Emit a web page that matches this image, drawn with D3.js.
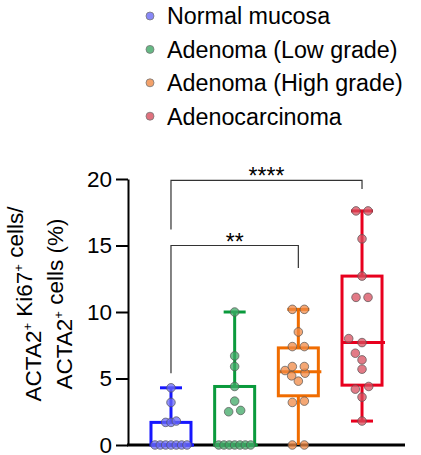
<!DOCTYPE html>
<html>
<head>
<meta charset="utf-8">
<script src="https://cdn.jsdelivr.net/npm/d3@7"></script>
<style>
  body { margin: 0; background: #fff; }
  svg text { font-family: Arial, "Liberation Sans", sans-serif; fill: #000; }
</style>
</head>
<body>
<div id="chart"></div>
<script>
// groups and colours
var groups = ["Normal mucosa", "Adenoma (Low grade)", "Adenoma (High grade)", "Adenocarcinoma"];
var boxColors = ["#1616ff", "#0a9a3c", "#f06c00", "#e8001e"];
var dotColors = ["#6a6af5", "#3fa865", "#f08a45", "#d84e5e"];

// individual values (%)
var normalVals = [0, 0, 0, 0, 0, 0, 0, 1.7, 1.7, 1.8, 3.2, 4.3];
var lowVals = [0, 0, 0, 0, 0, 0, 0, 2.5, 2.6, 3.3, 4.4, 5.9, 6.7, 10.0];
var highVals = [0, 0, 3.2, 3.3, 4.8, 5.2, 5.4, 5.6, 5.9, 5.9, 7.4, 7.4, 8.5, 10.2, 10.2];
var carcVals = [1.8, 3.6, 4.2, 4.4, 5.7, 6.4, 6.9, 7.7, 8.0, 11.1, 11.1, 12.7, 15.5, 17.6, 17.6];
var allVals = [normalVals, lowVals, highVals, carcVals];

// box plot stats (min, q1, median, q3, max)
var boxMin = [0, 0, 0, 1.8];
var boxQ1 = [0, 0, 3.7, 4.5];
var boxMed = [0, 0, 5.5, 7.7];
var boxQ3 = [1.7, 4.4, 7.3, 12.7];
var boxMax = [4.3, 10.0, 10.2, 17.6];

var yTicks = [0, 5, 10, 15, 20];

// significance brackets
var compFrom = [0, 0];
var compTo = [3, 2];
var compLevel = [19.9, 15.0];
var compLeftEnd = [16.2, 5.4];
var compRightEnd = [19.25, 13.3];
var compLabel = ["****", "**"];

var W = 421, H = 455;
var svg = d3.select("#chart").append("svg")
    .attr("width", W).attr("height", H);

var x = d3.scalePoint().domain(groups).range([128, 405]).padding(0.675);
var y = d3.scaleLinear().domain([0, 20]).range([445, 179]);

// legend
var legend = svg.append("g").attr("class", "legend");
groups.forEach(function(g, i) {
  var ly = 16 + i * 33.4;
  legend.append("circle")
      .attr("cx", 150).attr("cy", ly).attr("r", 4)
      .style("fill", dotColors[i]).style("fill-opacity", 0.8)
      .style("stroke", "#777").style("stroke-width", 0.8);
  legend.append("text")
      .attr("x", 167).attr("y", ly).attr("dy", "0.36em")
      .style("font-size", "23.3px")
      .text(g);
});

// y axis
var yAxis = d3.axisLeft(y).tickValues(yTicks).tickSize(12).tickSizeOuter(0).tickPadding(4);
var gy = svg.append("g").attr("transform", "translate(128,0)").call(yAxis);
gy.select(".domain").style("stroke", "#000").style("stroke-width", 2);
gy.selectAll(".tick line").style("stroke", "#000").style("stroke-width", 2);
gy.selectAll(".tick text")
    .style("font-size", "22.5px")
    .style("font-family", "Arial, 'Liberation Sans', sans-serif")
    .style("fill", "#000");

// x axis baseline
svg.append("line")
    .attr("x1", 127).attr("x2", 405)
    .attr("y1", y(0)).attr("y2", y(0))
    .style("stroke", "#000").style("stroke-width", 3);

// y label (two lines, rotated)
function yLabelLine(xpos, parts) {
  var t = svg.append("text")
      .attr("transform", "translate(" + xpos + ",304) rotate(-90)")
      .attr("text-anchor", "middle")
      .style("font-size", "22.5px");
  parts.forEach(function(p) {
    if (p.sup) {
      t.append("tspan").attr("dy", -9).style("font-size", "13px").text(p.s);
      t.append("tspan").attr("dy", 9).text("");
    } else {
      t.append("tspan").text(p.s);
    }
  });
}
yLabelLine(41, [{s: "ACTA2"}, {s: "+", sup: true}, {s: " Ki67"}, {s: "+", sup: true}, {s: " cells/"}]);
yLabelLine(72, [{s: "ACTA2"}, {s: "+", sup: true}, {s: " cells (%)"}]);

// brackets
compFrom.forEach(function(f, i) {
  var x1 = x(groups[f]), x2 = x(groups[compTo[i]]);
  var yl = y(compLevel[i]);
  svg.append("path")
      .attr("d", "M" + x1 + "," + y(compLeftEnd[i]) + "V" + yl + "H" + x2 + "V" + y(compRightEnd[i]))
      .style("fill", "none").style("stroke", "#333").style("stroke-width", 1.2);
  svg.append("text")
      .attr("x", (x1 + x2) / 2).attr("y", yl + 4)
      .attr("text-anchor", "middle")
      .style("font-size", "23px")
      .text(compLabel[i]);
});

// boxes
var boxW = 40, capW = 22;
groups.forEach(function(g, i) {
  var cx = x(g), c = boxColors[i];
  var gb = svg.append("g").attr("class", "box");
  // whiskers
  gb.append("line").attr("x1", cx).attr("x2", cx)
      .attr("y1", y(boxQ3[i])).attr("y2", y(boxMax[i]))
      .style("stroke", c).style("stroke-width", 3);
  gb.append("line").attr("x1", cx).attr("x2", cx)
      .attr("y1", y(boxQ1[i])).attr("y2", y(boxMin[i]))
      .style("stroke", c).style("stroke-width", 3);
  gb.append("line").attr("x1", cx - capW / 2).attr("x2", cx + capW / 2)
      .attr("y1", y(boxMax[i])).attr("y2", y(boxMax[i]))
      .style("stroke", c).style("stroke-width", 3);
  if (boxMin[i] > 0) {
    gb.append("line").attr("x1", cx - capW / 2).attr("x2", cx + capW / 2)
        .attr("y1", y(boxMin[i])).attr("y2", y(boxMin[i]))
        .style("stroke", c).style("stroke-width", 3);
  }
  gb.append("rect")
      .attr("x", cx - boxW / 2).attr("width", boxW)
      .attr("y", y(boxQ3[i])).attr("height", y(boxQ1[i]) - y(boxQ3[i]))
      .style("fill", "none").style("stroke", c).style("stroke-width", 3);
  gb.append("line").attr("x1", cx - boxW / 2).attr("x2", cx + boxW / 2 + 3)
      .attr("y1", y(boxMed[i])).attr("y2", y(boxMed[i]))
      .style("stroke", c).style("stroke-width", 3);
});

// simple swarm layout for the dots
function swarm(vals) {
  var sorted = vals.slice().sort(d3.ascending);
  var rows = [];
  sorted.forEach(function(v) {
    var last = rows[rows.length - 1];
    if (last && v - last[0] <= 0.15) last.push(v); else rows.push([v]);
  });
  var placed = [];
  var minD = 8;
  var cands = [0, -6.7, 6.7, -13.3, 13.3, -18, 18];
  rows.forEach(function(row) {
    var n = row.length;
    if (n > 1) {
      var sp = n == 2 ? 12 : 5.33;
      row.forEach(function(v, k) { placed.push({v: v, dx: (k - (n - 1) / 2) * sp}); });
    } else {
      var v = row[0], yy = y(v), best = 0, bestD = -1;
      for (var k = 0; k < cands.length; k++) {
        var md = d3.min(placed, function(p) {
          return Math.hypot(p.dx - cands[k], y(p.v) - yy);
        });
        if (md === undefined) md = Infinity;
        if (md >= minD) { best = cands[k]; bestD = md; break; }
        if (md > bestD) { bestD = md; best = cands[k]; }
      }
      placed.push({v: v, dx: best});
    }
  });
  return placed;
}

groups.forEach(function(g, i) {
  var cx = x(g);
  svg.append("g").selectAll("circle")
      .data(swarm(allVals[i]))
      .enter().append("circle")
      .attr("cx", function(d) { return cx + d.dx; })
      .attr("cy", function(d) { return y(d.v); })
      .attr("r", 4.3)
      .style("fill", dotColors[i]).style("fill-opacity", 0.75)
      .style("stroke", "#555").style("stroke-opacity", 0.7).style("stroke-width", 1);
});
</script>
</body>
</html>
